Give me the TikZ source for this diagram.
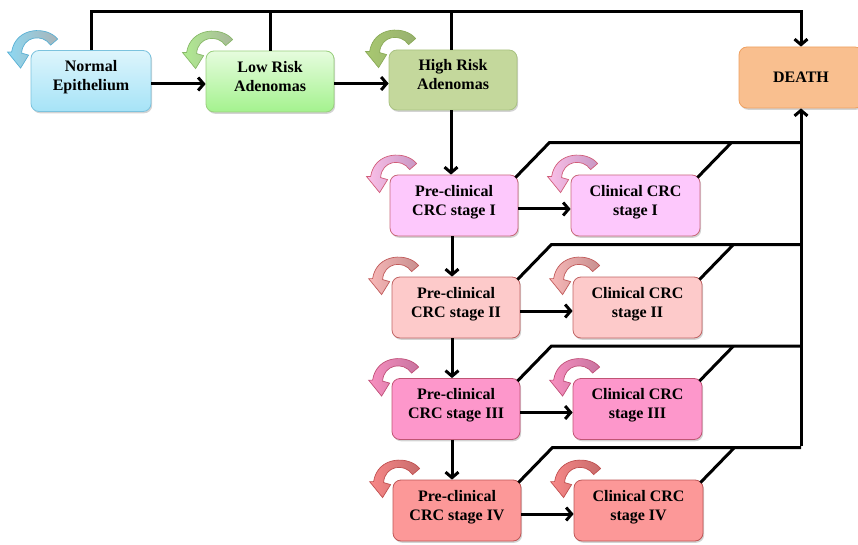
\documentclass[tikz,border=0pt]{standalone}
\usepackage{fontspec}
\setmainfont{Liberation Serif}
\usetikzlibrary{arrows.meta,shadows}

% box fills and borders
\definecolor{neTop}{HTML}{DDF5FC}\definecolor{neBot}{HTML}{A6E3F7}\definecolor{neEdge}{HTML}{7CC3DE}
\definecolor{lrTop}{HTML}{E6FCDE}\definecolor{lrBot}{HTML}{A4F28E}\definecolor{lrEdge}{HTML}{9ACF7E}
\definecolor{hrFill}{HTML}{C4D89C}\definecolor{hrEdge}{HTML}{A9C282}
\definecolor{deFill}{HTML}{F9BF8F}\definecolor{deEdge}{HTML}{EFA060}
\definecolor{fillI}{HTML}{FDC8FC}\definecolor{edgeBI}{HTML}{C8687A}
\definecolor{fillII}{HTML}{FDCACA}\definecolor{edgeBII}{HTML}{C06464}
\definecolor{fillIII}{HTML}{FD97CB}\definecolor{edgeBIII}{HTML}{C05474}
\definecolor{fillIV}{HTML}{FC9898}\definecolor{edgeBIV}{HTML}{BE5656}

% self-transition arrow colours
\definecolor{headN}{HTML}{8ED8F2}\definecolor{tailN}{HTML}{A9B4B8}\definecolor{edgeN}{HTML}{5AB0D4}
\definecolor{headL}{HTML}{B0EC90}\definecolor{tailL}{HTML}{A8B89A}\definecolor{edgeL}{HTML}{88B868}
\definecolor{headH}{HTML}{A8C870}\definecolor{tailH}{HTML}{98B070}\definecolor{edgeH}{HTML}{8AAA58}
\definecolor{headI}{HTML}{FAC0E8}\definecolor{tailI}{HTML}{C898C4}\definecolor{edgeI}{HTML}{D05C78}
\definecolor{headII}{HTML}{F8B8B8}\definecolor{tailII}{HTML}{C89090}\definecolor{edgeII}{HTML}{C05A5A}
\definecolor{headIII}{HTML}{F890C0}\definecolor{tailIII}{HTML}{C874A0}\definecolor{edgeIII}{HTML}{C05078}
\definecolor{headIV}{HTML}{F88888}\definecolor{tailIV}{HTML}{C86C6C}\definecolor{edgeIV}{HTML}{C05050}

\begin{document}
\begin{tikzpicture}[x=1pt,y=-1pt,
  box/.style={rounded corners=8pt, minimum height=61pt, minimum width=128pt,
    align=center, font=\fontsize{16}{19}\selectfont\bfseries, line width=0.8pt,
    drop shadow={opacity=0.35,shadow xshift=1.2pt,shadow yshift=-1.8pt}},
  twoline/.style={box, text depth=11pt},
  wire/.style={line width=3pt},
  arr/.style={wire,-{Straight Barb[length=5.5pt,width=13pt]}},
  selfloop/.pic={
    \path[draw=edge#1, line width=0.7pt, left color=head#1, right color=tail#1]
      (27,-11) .. controls (17,-24) and (-15,-24) .. (-19,2) -- (-23,2)
      -- (-10,18) -- (-2,5) -- (-9,3)
      .. controls (-8,-14) and (12,-17) .. (20,-5) -- cycle;
  }]
\useasboundingbox (0,0) rectangle (858,545);

% states
\node[twoline, minimum width=120pt, top color=neTop, bottom color=neBot, draw=neEdge] (ne) at (91,81) {Normal\\Epithelium};
\node[twoline, top color=lrTop, bottom color=lrBot, draw=lrEdge] (lr) at (270,81.5) {Low Risk\\Adenomas};
\node[twoline, fill=hrFill, draw=hrEdge, minimum height=60pt] (hr) at (453,80) {High Risk\\Adenomas};
\node[box, minimum width=124pt, fill=deFill, draw=deEdge] (death) at (801,77.5) {DEATH};

\node[twoline, fill=fillI, draw=edgeBI] (p1) at (454,205.5) {Pre-clinical\\CRC stage I};
\node[twoline, minimum width=129pt, fill=fillI, draw=edgeBI] (c1) at (635.5,205.5) {Clinical CRC\\stage I};
\node[twoline, fill=fillII, draw=edgeBII] (p2) at (456,307.5) {Pre-clinical\\CRC stage II};
\node[twoline, minimum width=129pt, fill=fillII, draw=edgeBII] (c2) at (637.5,307.5) {Clinical CRC\\stage II};
\node[twoline, fill=fillIII, draw=edgeBIII] (p3) at (456,409) {Pre-clinical\\CRC stage III};
\node[twoline, minimum width=129pt, fill=fillIII, draw=edgeBIII] (c3) at (637.5,409) {Clinical CRC\\stage III};
\node[twoline, fill=fillIV, draw=edgeBIV] (p4) at (457,510.5) {Pre-clinical\\CRC stage IV};
\node[twoline, minimum width=129pt, fill=fillIV, draw=edgeBIV] (c4) at (638.5,510.5) {Clinical CRC\\stage IV};

% self transitions
\pic at (ne.north west) {selfloop=N};
\pic at (lr.north west) {selfloop=L};
\pic at (hr.north west) {selfloop=H};
\pic at (p1.north west) {selfloop=I};
\pic at (c1.north west) {selfloop=I};
\pic at (p2.north west) {selfloop=II};
\pic at (c2.north west) {selfloop=II};
\pic at (p3.north west) {selfloop=III};
\pic at (c3.north west) {selfloop=III};
\pic at (p4.north west) {selfloop=IV};
\pic at (c4.north west) {selfloop=IV};

% death from the non-cancer states
\coordinate (topbus) at (0,12);
\draw[arr] (ne.north) |- (topbus -| death.north) -- (death.north);
\draw[wire] (lr.north) -- (lr.north |- topbus);
\draw[wire] ([xshift=-2pt]hr.north) -- ([xshift=-2pt]hr.north |- topbus);

% progression
\draw[arr] ([yshift=-3pt]ne.east) -- ([yshift=-3pt]ne.east -| lr.west);
\draw[arr] ([yshift=-2pt]lr.east) -- ([yshift=-2pt]lr.east -| hr.west);
\draw[arr] ([xshift=-2pt]hr.south) -- ([xshift=-2pt]hr.south |- p1.north);
\draw[arr] ([xshift=-2pt]p1.south) -- ([xshift=-2pt]p1.south |- p2.north);
\draw[arr] ([xshift=-4pt]p2.south) -- ([xshift=-4pt]p2.south |- p3.north);
\draw[arr] ([xshift=-4pt]p3.south) -- ([xshift=-4pt]p3.south |- p4.north);
\foreach \r in {1,2,3,4}
  \draw[arr] ([yshift=-3.5pt]p\r.east) -- ([yshift=-3.5pt]c\r.west);

% death from the cancer states
\foreach \r in {1,2,3,4}{
  \draw[wire] ([shift={(-3,3)}]p\r.north east) -- ([shift={(31,-32)}]p\r.north east)
    coordinate (b\r) -- (b\r -| death.south);
  \draw[wire] ([shift={(-3,3)}]c\r.north east) -- ([shift={(31,-32)}]c\r.north east);
}
\draw[arr] ([yshift=1.5pt]b4 -| death.south) -- (death.south);
\end{tikzpicture}
\end{document}
